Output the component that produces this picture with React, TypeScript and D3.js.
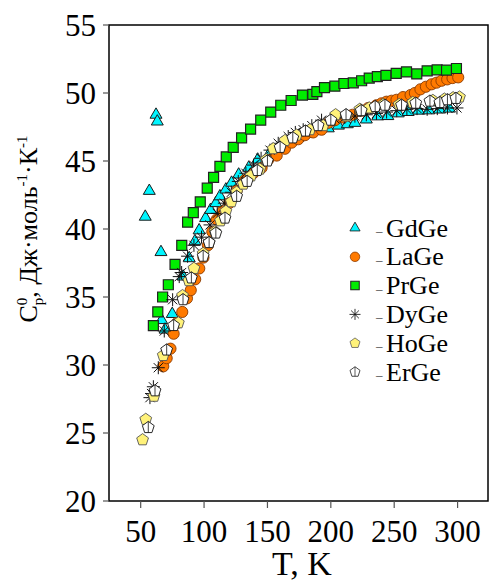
import React from "react";
import * as d3 from "d3";

const xTicks = [50, 100, 150, 200, 250, 300];
const yTicks = [20, 25, 30, 35, 40, 45, 50, 55];

const gdGe: [number, number][] = [
  [53.6, 40.9], [56.8, 42.8], [62.1, 48.4], [63.1, 47.9], [66, 38.3],
  [66.5, 33.3], [69.2, 32.6], [74.9, 33.75], [83.5, 36.5], [88.3, 37.85],
  [92.8, 39.1], [96.1, 39.9], [101.2, 40.8], [105.1, 41.4], [109.3, 41.9],
  [112.5, 42.4], [117.2, 42.9], [121.7, 43.4], [127.3, 44.0], [135.2, 44.5],
  [142.3, 45.1], [150.6, 45.4], [158, 45.9], [166, 46.3], [174, 46.7],
  [182, 47.0], [190, 47.2], [198, 47.4], [206, 47.6], [213, 47.7],
  [219, 47.8], [228, 48.05], [237, 48.28], [245, 48.3], [253.2, 48.5],
  [261, 48.6], [269.3, 48.7], [277.3, 48.72], [285.8, 48.78], [293.6, 48.85],
];

const laGe: [number, number][] = [
  [67.8, 29.9], [70.5, 30.5], [73.5, 31.2], [76, 32.3], [78.8, 33.1],
  [82.8, 33.9], [86.5, 34.9], [89.5, 35.5], [93, 36.3], [96.2, 37.1],
  [99.5, 37.9], [103, 38.8], [106.5, 39.8], [110, 40.7], [114.6, 41.3],
  [119.8, 41.9], [125.7, 42.8], [132.3, 43.6], [138.8, 44.1], [145.4, 44.5],
  [150.6, 45.1], [157.3, 45.4], [163.8, 45.9], [169.1, 46.35], [174.3, 46.6],
  [179.6, 46.9], [186.1, 47.1], [192.7, 47.3], [197.9, 47.8], [203.2, 48.0],
  [209.7, 48.2], [217.1, 48.4], [224.3, 48.7], [229.5, 48.9], [236, 49.1],
  [240, 49.24], [243.9, 49.36], [247.9, 49.43], [251.8, 49.5], [257, 49.7],
  [262.9, 49.85], [266.3, 50.0], [270.7, 50.27], [275, 50.46], [279.5, 50.64],
  [283.4, 50.76], [287.3, 50.9], [291.8, 51.0], [296, 51.1], [300.5, 51.15],
];

const prGe: [number, number][] = [
  [60, 32.9], [63.5, 33.9], [67.3, 35.0], [71.8, 35.9], [77.1, 37.4],
  [82.4, 38.8], [87, 40.5], [91.5, 41.2], [97, 42.0], [102.5, 43.0],
  [107.5, 43.8], [112.5, 44.6], [117.5, 45.3], [123, 46.0], [129.6, 46.7],
  [136.7, 47.35], [144.7, 48.0], [152.6, 48.6], [160.5, 49.1], [168.7, 49.45],
  [177.6, 49.85], [185.8, 49.9], [189, 50.1], [195, 50.4], [203.2, 50.5],
  [210.3, 50.7], [217.7, 50.75], [224.3, 50.9], [230.3, 51.1], [236.7, 51.2],
  [243.5, 51.3], [251.6, 51.45], [259.7, 51.55], [267.8, 51.4], [276, 51.63],
  [283.9, 51.7], [291.3, 51.68], [299.1, 51.8],
];

const dyGe: [number, number][] = [
  [57.3, 27.6], [58.6, 27.9], [60, 28.4], [63.9, 29.8], [68.6, 32.5],
  [75.2, 34.8], [80.4, 36.5], [82.3, 36.8], [87, 38.0], [92, 38.8],
  [98, 39.4], [104.7, 40.3], [110.4, 41.15], [116, 41.9], [121.5, 42.7],
  [127, 43.5], [133, 44.1], [139, 44.7], [145, 45.2], [152, 45.8],
  [158.5, 46.3], [166.4, 46.8], [172, 47.1], [178.2, 47.3], [185, 47.6],
  [192.7, 48.0], [203.2, 48.1], [211, 48.2], [219, 48.3], [228, 48.4],
  [236, 48.5], [244, 48.6], [252, 48.7], [260, 48.8], [268, 48.85],
  [276, 48.8], [284, 48.85], [292, 48.9], [299.5, 48.9],
];

const hoGe: [number, number][] = [
  [51.5, 24.5], [54, 26.0], [60.5, 27.7], [67.8, 30.7], [79.7, 33.1],
  [83, 35.1], [88, 36.2], [92, 37.1], [99.3, 38.2], [104, 39.0],
  [108.6, 39.8], [113, 40.6], [117.2, 41.3], [121.5, 42.0], [125.7, 42.7],
  [131, 43.3], [137, 43.9], [144, 44.4], [149, 45.1], [154.6, 45.9],
  [163.8, 46.5], [173, 46.9], [183.5, 47.3], [194, 47.6], [203.8, 48.4],
  [212.4, 48.3], [222.9, 48.8], [230.3, 48.9], [241.3, 49.15], [253.9, 49.15],
  [264.7, 49.3], [280.5, 49.45], [289.6, 49.55], [296.5, 49.65], [301.5, 49.7],
];

const erGe: [number, number][] = [
  [56, 25.4], [61.3, 28.1], [70.5, 31.1], [76, 32.9], [83.4, 34.8],
  [90, 36.4], [99.3, 38.0], [104, 39.0], [109.3, 39.7], [116.5, 40.8],
  [125.7, 42.4], [134, 43.5], [142, 44.3], [150, 45.0], [160, 46.0],
  [170, 46.7], [180, 47.2], [190, 47.6], [200, 48.0], [212, 48.4],
  [224, 48.7], [235, 49.0], [242.7, 49.1], [255.8, 49.1], [267, 49.25],
  [278.2, 49.4], [286, 49.3], [292, 49.5], [298.7, 49.6],
];

const seriesNames = ["GdGe", "LaGe", "PrGe", "DyGe", "HoGe", "ErGe"];

const FONT = "Liberation Serif";

const W = 490;
const H = 588;
const left = 109;
const right = 488;
const top = 25;
const bottom = 501;

function pentagonPath(r: number) {
  const pts = d3.range(5).map((i) => {
    const a = -Math.PI / 2 + (i * 2 * Math.PI) / 5;
    return [r * Math.cos(a), r * Math.sin(a)];
  });
  return "M" + pts.map((p) => p[0].toFixed(2) + "," + p[1].toFixed(2)).join("L") + "Z";
}

function asteriskPath(r: number) {
  const d = r * Math.SQRT1_2;
  return `M0,${-r}L0,${r}M${-r},0L${r},0M${-d},${-d}L${d},${d}M${-d},${d}L${d},${-d}`;
}

type Style = { d: string; fill: string; stroke: string; sw: number; extra?: string };

const triPath = d3.symbol().type(d3.symbolTriangle).size(62)()!;
const circPath = d3.symbol().type(d3.symbolCircle).size(98)()!;
const sqPath = d3.symbol().type(d3.symbolSquare).size(100)()!;
const pentPath = pentagonPath(6.2);
const starPath = asteriskPath(6.5);

const styles: Style[] = [
  { d: triPath, fill: "#00f5ff", stroke: "#1a1a1a", sw: 1 },
  { d: circPath, fill: "#ff7a00", stroke: "#8a3a00", sw: 0.9 },
  { d: sqPath, fill: "#00ee00", stroke: "#222222", sw: 1.2 },
  { d: starPath, fill: "none", stroke: "#111111", sw: 1 },
  { d: pentPath, fill: "#fff27a", stroke: "#555555", sw: 0.9 },
  { d: pentPath, fill: "#ffffff", stroke: "#111111", sw: 0.9, extra: "M0,-6L0,5" },
];

export default function App() {
  const x = d3.scaleLinear().domain([25, 324]).range([left, right]);
  const y = d3.scaleLinear().domain([20, 55]).range([bottom, top]);
  const allSeries = [gdGe, laGe, prGe, dyGe, hoGe, erGe];

  const legendX = 355;
  const legendY0 = 228;
  const legendStep = 28.8;

  return (
    <svg width={W} height={H} style={{ position: "absolute", left: 0, top: 0, background: "#fff", fontFamily: FONT }}>
      <rect x={0} y={0} width={W} height={H} fill="#fff" />
      <rect x={left} y={top} width={right - left} height={bottom - top} fill="none" stroke="#000" strokeWidth={1.5} />
      {yTicks.map((t) => (
        <g key={"y" + t}>
          <line x1={left - 6} x2={left} y1={y(t)} y2={y(t)} stroke="#555" strokeWidth={1.2} />
          <text x={96} y={y(t) + 10.5} textAnchor="end" fontSize={31} fill="#000">
            {t}
          </text>
        </g>
      ))}
      {xTicks.map((t) => (
        <g key={"x" + t}>
          <line x1={x(t)} x2={x(t)} y1={bottom} y2={bottom + 7} stroke="#555" strokeWidth={1.2} />
          <text x={x(t)} y={542} textAnchor="middle" fontSize={31} fill="#000">
            {t}
          </text>
        </g>
      ))}
      <text x={302} y={575} textAnchor="middle" fontSize={34} fill="#000">
        T, K
      </text>
      <text transform={`translate(37,229) rotate(-90)`} textAnchor="middle" fontSize={26} fill="#000">
        C
        <tspan dy={-10} fontSize={15}>0</tspan>
        <tspan dx={-7.5} dy={16} fontSize={15}>p</tspan>
        <tspan dy={-6}>, Дж·моль</tspan>
        <tspan dy={-10} fontSize={15}>-1</tspan>
        <tspan dy={10}>·К</tspan>
        <tspan dy={-10} fontSize={15}>-1</tspan>
      </text>
      {allSeries.map((s, i) => (
        <g key={"s" + i}>
          {s.map(([t, v], j) => (
            <g key={j} transform={`translate(${x(t)},${y(v)})`}>
              <path d={styles[i].d} fill={styles[i].fill} stroke={styles[i].stroke} strokeWidth={styles[i].sw} />
              {styles[i].extra && <path d={styles[i].extra} stroke={styles[i].stroke} strokeWidth={0.8} fill="none" />}
            </g>
          ))}
        </g>
      ))}
      {seriesNames.map((n, i) => {
        const cy = legendY0 + i * legendStep;
        return (
          <g key={"l" + n}>
            <g transform={`translate(${legendX},${cy})`}>
              <path d={styles[i].d} fill={styles[i].fill} stroke={styles[i].stroke} strokeWidth={styles[i].sw} transform="scale(0.85)" />
              {styles[i].extra && <path d={styles[i].extra} stroke={styles[i].stroke} strokeWidth={0.8} fill="none" transform="scale(0.85)" />}
            </g>
            <text x={376} y={cy + 7} fontSize={13} fill="#333">
              –
            </text>
            <text x={386} y={cy + 8.5} fontSize={26} fill="#000">
              {n}
            </text>
          </g>
        );
      })}
    </svg>
  );
}
